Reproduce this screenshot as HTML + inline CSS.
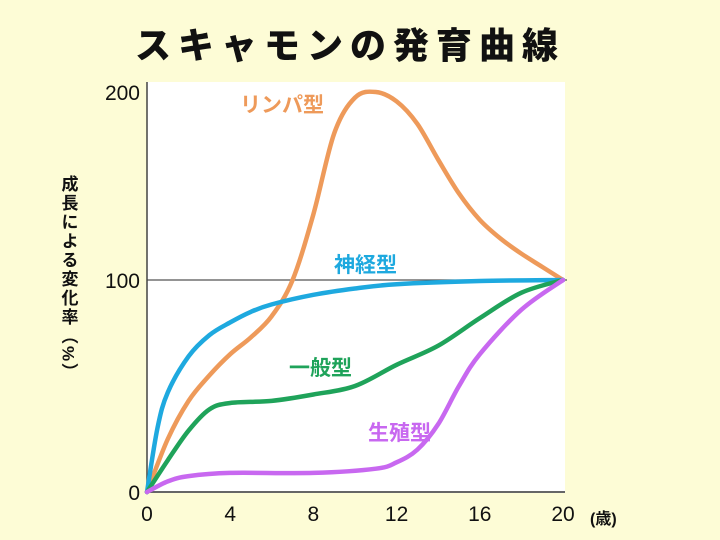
<!DOCTYPE html>
<html><head><meta charset="utf-8"><style>
body{margin:0;background:#fdfcd6;}
svg{display:block;}
text{font-family:"Liberation Sans","Noto Sans CJK JP",sans-serif;}
</style></head><body>
<svg width="720" height="540">
<rect width="720" height="540" fill="#fdfcd6"/>
<text x="350" y="58" text-anchor="middle" font-size="36" font-weight="900" letter-spacing="7" fill="#111">スキャモンの発育曲線</text>
<rect x="147" y="82" width="418" height="410" fill="#ffffff"/>
<g id="axes"></g>
<g id="series"></g>
<text font-size="17" font-weight="bold" fill="#111" letter-spacing="2" style="writing-mode:vertical-rl" x="68" y="175">成長による変化率（%）</text>
<text x="590" y="524" font-size="16" font-weight="bold" fill="#111">(歳)</text>
</svg>
<script>
const lymphAges=[0,1,2,3,4,5,6,7,8,9,10,11,12,13,14,15,16,17,18,19,20];
const lymph=[0,25,43,55,65,73,83,100,135,178,197,200,195,183,164,146,132,122,114,107,100];
const neuralAges=[0,0.5,1,2,3,4,5,6,8,10,12,16,20];
const neural=[0,30,47,64,74,80,85,88.5,93,96,98,99.5,100];
const generalAges=[0,1,2,3,4,6,8,10,12,14,16,18,20];
const general=[0,15,29,39,42,43,46,50,60,69,82,94,100];
const reproAges=[0,1,2,4,8,11,12,13,14,15,16,18,20];
const repro=[0,5,7.5,9,9,11,14,20,32,50,65,86,100];
const xTicks=[0,4,8,12,16,20];
const yTicks=[0,100,200];
const NS="http://www.w3.org/2000/svg";
function xS(a){return 147+a*416/20;}
function yS(v){return v<=100?492-v*2.12:280-(v-100)*1.88;}
function mk(t,attrs,parent){const e=document.createElementNS(NS,t);for(const k in attrs)e.setAttribute(k,attrs[k]);parent.appendChild(e);return e;}
const axes=document.getElementById('axes');
let l=mk('line',{x1:147,y1:280,x2:567,y2:280,stroke:'#555','stroke-width':1.2},axes);


l=mk('line',{x1:147,y1:82,x2:147,y2:493,stroke:'#444','stroke-width':1.5},axes);


l=mk('line',{x1:146,y1:492,x2:565,y2:492,stroke:'#666','stroke-width':2},axes);


xTicks.forEach(t=>{const e=mk('text',{x:xS(t),y:521,'text-anchor':'middle','font-size':21,fill:'#111'},axes);e.textContent=t;

});
yTicks.forEach(t=>{const e=mk('text',{x:140,y:(t==200?92:yS(t))+8,'text-anchor':'end','font-size':21,fill:'#111'},axes);e.textContent=t;

});
function path(xs,ys){const p=xs.map((a,i)=>[xS(a),yS(ys[i])]);let d='M'+p[0][0]+','+p[0][1];
for(let i=0;i<p.length-1;i++){const p0=p[i-1]||p[i],p1=p[i],p2=p[i+1],p3=p[i+2]||p2;
d+=' C'+(p1[0]+(p2[0]-p0[0])/6)+','+(p1[1]+(p2[1]-p0[1])/6)+' '+(p2[0]-(p3[0]-p1[0])/6)+','+(p2[1]-(p3[1]-p1[1])/6)+' '+p2[0]+','+p2[1];}return d;}
const sg=document.getElementById('series');
const defs=[[lymphAges,lymph,'#ee9a5a','lymph-line','リンパ型',240,112,'lymph-label'],
[neuralAges,neural,'#1ea9df','neural-line','神経型',334,272,'neural-label'],
[generalAges,general,'#1fa35a','general-line','一般型',289,375,'general-label'],
[reproAges,repro,'#c868f0','reproductive-line','生殖型',368,440,'reproductive-label']];
defs.forEach(d=>{const p=mk('path',{d:path(d[0],d[1]),fill:'none',stroke:d[2],'stroke-width':4.5,'stroke-linecap':'round','stroke-linejoin':'round'},sg);


const t=mk('text',{x:d[5],y:d[6],'font-size':21,'font-weight':'bold',fill:d[2]},sg);t.textContent=d[4];

});
</script>
</body></html>
